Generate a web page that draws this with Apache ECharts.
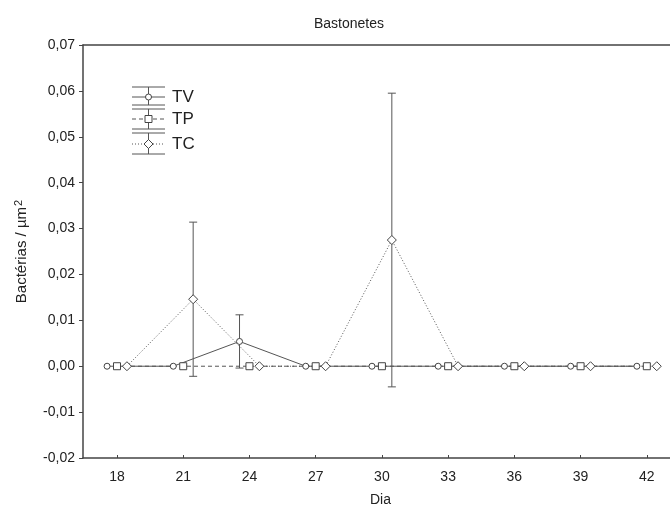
<!DOCTYPE html>
<html>
<head>
<meta charset="utf-8">
<script src="https://cdn.jsdelivr.net/npm/echarts@6/dist/echarts.min.js"></script>
<style>html,body{margin:0;padding:0;background:#fff}#c{width:670px;height:512px}</style>
</head>
<body>
<div id="c"></div>
<script>
// ---- data ----
var days = [18, 21, 24, 27, 30, 33, 36, 39, 42];
var xTicks = [18, 21, 24, 27, 30, 33, 36, 39, 42];
var seriesNames = ['TV', 'TP', 'TC'];
var dayOffsets = [-0.45, 0, 0.45];
var tvMean = [0, 0, 0.0054, 0, 0, 0, 0, 0, 0];
var tvErr  = [0, 0, 0.0058, 0, 0, 0, 0, 0, 0];
var tpMean = [0, 0, 0, 0, 0, 0, 0, 0, 0];
var tpErr  = [0, 0, 0, 0, 0, 0, 0, 0, 0];
var tcMean = [0, 0.0146, 0, 0, 0.0275, 0, 0, 0, 0];
var tcErr  = [0, 0.0168, 0, 0, 0.0320, 0, 0, 0, 0];

var means = [tvMean, tpMean, tcMean];
var errs = [tvErr, tpErr, tcErr];
var lineTypes = ['solid', [4, 3], [1, 2]];
var symbols = ['circle', 'rect', 'diamond'];
var symbolSizes = [6, 7, 9];
var lineColor = '#555';
var font = '"Liberation Sans", Arial, sans-serif';

var chart = echarts.init(document.getElementById('c'));

var series = [];
// error bars
seriesNames.forEach(function (name, s) {
  var d = [];
  days.forEach(function (day, i) {
    if (errs[s][i] > 0) d.push([day + dayOffsets[s], means[s][i], means[s][i] - errs[s][i], means[s][i] + errs[s][i]]);
  });
  series.push({
    type: 'custom',
    name: name + ' err',
    z: 1,
    data: d,
    renderItem: function (params, api) {
      var x = api.value(0);
      var lo = api.coord([x, api.value(2)]);
      var hi = api.coord([x, api.value(3)]);
      var w = 4;
      var st = { stroke: lineColor, lineWidth: 1 };
      return {
        type: 'group',
        children: [
          { type: 'line', shape: { x1: lo[0], y1: lo[1], x2: hi[0], y2: hi[1] }, style: st },
          { type: 'line', shape: { x1: lo[0] - w, y1: lo[1], x2: lo[0] + w, y2: lo[1] }, style: st },
          { type: 'line', shape: { x1: hi[0] - w, y1: hi[1], x2: hi[0] + w, y2: hi[1] }, style: st }
        ]
      };
    }
  });
});
// lines with markers
seriesNames.forEach(function (name, s) {
  series.push({
    type: 'line',
    name: name,
    z: 3,
    data: days.map(function (day, i) { return [day + dayOffsets[s], means[s][i]]; }),
    symbol: symbols[s],
    symbolSize: symbolSizes[s],
    showAllSymbol: true,
    lineStyle: { color: lineColor, width: 1, type: lineTypes[s] },
    itemStyle: { color: '#fff', borderColor: '#444', borderWidth: 1 },
    animation: false
  });
});

// legend drawn as graphic
var legendX0 = 132, legendX1 = 165, legendCx = 148.5;
var legendRows = [
  { top: 87, mid: 97, bot: 105 },
  { top: 109, mid: 119, bot: 129 },
  { top: 133, mid: 144, bot: 154 }
];
var graphics = [];
legendRows.forEach(function (r, s) {
  var st = { stroke: lineColor, lineWidth: 1 };
  graphics.push({ type: 'line', shape: { x1: legendX0, y1: r.top, x2: legendX1, y2: r.top }, style: st });
  graphics.push({ type: 'line', shape: { x1: legendX0, y1: r.bot, x2: legendX1, y2: r.bot }, style: st });
  graphics.push({ type: 'line', shape: { x1: legendCx, y1: r.top, x2: legendCx, y2: r.bot }, style: st });
  graphics.push({ type: 'line', shape: { x1: legendX0, y1: r.mid, x2: legendX1, y2: r.mid },
    style: { stroke: lineColor, lineWidth: 1, lineDash: lineTypes[s] === 'solid' ? null : lineTypes[s] } });
  var sz = symbolSizes[s];
  var mst = { fill: '#fff', stroke: '#444', lineWidth: 1 };
  if (symbols[s] === 'circle') {
    graphics.push({ type: 'circle', shape: { cx: legendCx, cy: r.mid, r: sz / 2 }, style: mst });
  } else if (symbols[s] === 'rect') {
    graphics.push({ type: 'rect', shape: { x: legendCx - sz / 2, y: r.mid - sz / 2, width: sz, height: sz }, style: mst });
  } else {
    graphics.push({ type: 'polygon', shape: { points: [[legendCx, r.mid - sz / 2], [legendCx + sz / 2, r.mid], [legendCx, r.mid + sz / 2], [legendCx - sz / 2, r.mid]] }, style: mst });
  }
  graphics.push({ type: 'text', x: 172, y: r.mid, style: { text: seriesNames[s], fill: '#222', font: '17px ' + font, verticalAlign: 'middle', textAlign: 'left' } });
});

var fmtY = function (v) { return v.toFixed(2).replace('.', ','); };

chart.setOption({
  animation: false,
  backgroundColor: '#fff',
  textStyle: { fontFamily: font },
  title: {
    text: 'Bastonetes', left: 344, top: 12, textAlign: 'center',
    textStyle: { fontSize: 14, fontWeight: 'normal', color: '#222', fontFamily: font }
  },
  grid: { left: 83, right: 0, top: 45, bottom: 50, containLabel: false },
  xAxis: [{
    type: 'value', min: 16.46, max: 43.05,
    name: 'Dia', nameLocation: 'middle', nameGap: 35,
    nameTextStyle: { fontSize: 14, color: '#222', padding: [0, 0, 0, 8] },
    axisLine: { show: true, onZero: false, lineStyle: { color: '#444', width: 1.5 } },
    axisTick: { show: true, inside: true, length: 3, customValues: xTicks, lineStyle: { color: '#444' } },
    axisLabel: { customValues: xTicks, fontSize: 14, color: '#222', margin: 12 },
    splitLine: { show: false }
  }, {
    type: 'value', min: 16.46, max: 43.05, position: 'top',
    axisLine: { show: true, onZero: false, lineStyle: { color: '#444', width: 1.5 } },
    axisTick: { show: false }, axisLabel: { show: false }, splitLine: { show: false }
  }],
  yAxis: {
    type: 'value', min: -0.02, max: 0.07, interval: 0.01,
    name: '{a|Bactérias / µm}{s|2}', nameLocation: 'middle', nameGap: 53,
    nameTextStyle: {
      color: '#222',
      rich: {
        a: { fontSize: 15, color: '#222', fontFamily: font },
        s: { fontSize: 11, color: '#222', fontFamily: font, verticalAlign: 'top', padding: [0, 0, 6, 1] }
      }
    },
    axisLine: { show: true, onZero: false, lineStyle: { color: '#444', width: 1.5 } },
    axisTick: { show: true, inside: false, length: 4, lineStyle: { color: '#444' } },
    axisLabel: { formatter: fmtY, fontSize: 14, color: '#222', margin: 8 },
    splitLine: { show: false }
  },
  graphic: graphics,
  series: series
});
</script>
</body>
</html>
